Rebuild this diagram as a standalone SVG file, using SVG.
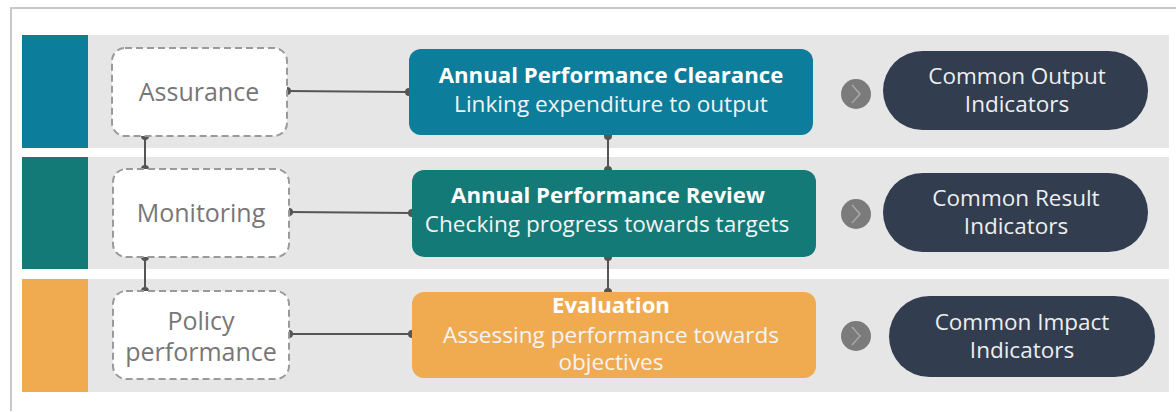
<svg xmlns="http://www.w3.org/2000/svg" width="1176" height="412" viewBox="0 0 1176 412">
<defs>
<style>
.band{fill:#e6e6e6}
.dash{fill:#fff;stroke:#9a9a9a;stroke-width:2;stroke-dasharray:7 4}
.lbl{font-family:"Open Sans","Noto Sans",sans-serif;font-size:25px;fill:#777;text-anchor:middle}
.ttl{font-family:"Open Sans","Noto Sans",sans-serif;font-size:22.2px;font-weight:bold;fill:#fff;text-anchor:middle}
.sub{font-family:"Open Sans","Noto Sans",sans-serif;font-size:22.6px;fill:#f4f4f4;text-anchor:middle}
.pill{fill:#323d50}
.ptx{font-family:"Open Sans","Noto Sans",sans-serif;font-size:22.5px;fill:#eeeeee;text-anchor:middle}
.conn{stroke:#555;stroke-width:2;fill:none}
.dot{fill:#555}
.arr{fill:#7b7b7b}
.chev{fill:none;stroke:#a8a8a8;stroke-width:1.5}
</style>
</defs>
<rect x="0" y="0" width="1176" height="412" fill="#fff"/>
<path d="M11 411 V8 H1176" fill="none" stroke="#c8c8c8" stroke-width="2"/>

<g id="bands">
<rect class="band" x="88" y="35" width="1081" height="113"/>
<rect class="band" x="88" y="157" width="1081" height="112"/>
<rect class="band" x="88" y="279" width="1081" height="113"/>
<rect x="22" y="35" width="66" height="113" fill="#0c7d9b"/>
<rect x="22" y="157" width="66" height="112" fill="#137a78"/>
<rect x="22" y="279" width="66" height="113" fill="#f0ab50"/>
</g>

<g id="connectors">
<line class="conn" x1="287" y1="91" x2="409" y2="92"/>
<line class="conn" x1="289" y1="212" x2="412" y2="213"/>
<line class="conn" x1="289" y1="334" x2="412" y2="334"/>
<line class="conn" x1="145" y1="136" x2="145" y2="169"/>
<line class="conn" x1="145" y1="257" x2="145" y2="291"/>
<line class="conn" x1="608" y1="136" x2="608" y2="170"/>
<line class="conn" x1="608" y1="257" x2="608" y2="292"/>
<circle class="dot" cx="287" cy="91" r="4"/><circle class="dot" cx="409" cy="92" r="4"/>
<circle class="dot" cx="289" cy="212" r="4"/><circle class="dot" cx="412" cy="213" r="4"/>
<circle class="dot" cx="289" cy="334" r="4"/><circle class="dot" cx="412" cy="334" r="4"/>
<circle class="dot" cx="145" cy="136" r="4"/><circle class="dot" cx="145" cy="169" r="4"/>
<circle class="dot" cx="145" cy="257" r="4"/><circle class="dot" cx="145" cy="291" r="4"/>
<circle class="dot" cx="608" cy="136" r="4"/><circle class="dot" cx="608" cy="170" r="4"/>
<circle class="dot" cx="608" cy="257" r="4"/><circle class="dot" cx="608" cy="292" r="4"/>
</g>

<g id="assurance">
<rect class="dash" x="112" y="48" width="175" height="88" rx="13"/>
<text class="lbl" x="199" y="101">Assurance</text>
</g>
<g id="monitoring">
<rect class="dash" x="113" y="169" width="176" height="88" rx="13"/>
<text class="lbl" x="201" y="222">Monitoring</text>
</g>
<g id="policy">
<rect class="dash" x="113" y="291" width="176" height="88" rx="13"/>
<text class="lbl" x="201" y="330">Policy</text>
<text class="lbl" x="201" y="361">performance</text>
</g>

<g id="apc">
<rect x="409" y="49" width="404" height="86" rx="12" fill="#0c7d9b"/>
<text class="ttl" x="611" y="83">Annual Performance Clearance</text>
<text class="sub" x="611" y="112">Linking expenditure to output</text>
</g>
<g id="apr">
<rect x="412" y="170" width="404" height="87" rx="12" fill="#137a78"/>
<text class="ttl" x="608" y="203">Annual Performance Review</text>
<text class="sub" x="607" y="232">Checking progress towards targets</text>
</g>
<g id="evaluation">
<rect x="412" y="292" width="404" height="86" rx="12" fill="#f0ab50"/>
<text class="ttl" x="611" y="313">Evaluation</text>
<text class="sub" x="611" y="343">Assessing performance towards</text>
<text class="sub" x="611" y="370">objectives</text>
</g>

<g id="arrow1"><circle class="arr" cx="856" cy="94" r="15"/><path class="chev" d="M852 85 L860 94 L852 103"/></g>
<g id="arrow2"><circle class="arr" cx="856" cy="214" r="15"/><path class="chev" d="M852 205 L860 214 L852 223"/></g>
<g id="arrow3"><circle class="arr" cx="856" cy="336" r="15"/><path class="chev" d="M852 327 L860 336 L852 345"/></g>

<g id="output">
<rect class="pill" x="883" y="51" width="265" height="79" rx="39.5"/>
<text class="ptx" x="1017" y="84">Common Output</text>
<text class="ptx" x="1017" y="112">Indicators</text>
</g>
<g id="result">
<rect class="pill" x="883" y="173" width="265" height="79" rx="39.5"/>
<text class="ptx" x="1016" y="206">Common Result</text>
<text class="ptx" x="1016" y="234">Indicators</text>
</g>
<g id="impact">
<rect class="pill" x="889" y="296" width="266" height="81" rx="40.5"/>
<text class="ptx" x="1022" y="330">Common Impact</text>
<text class="ptx" x="1022" y="358">Indicators</text>
</g>
</svg>
